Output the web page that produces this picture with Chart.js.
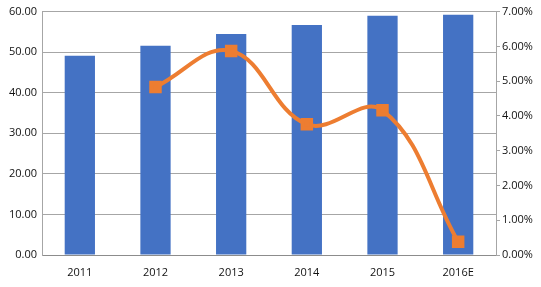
<!DOCTYPE html>
<html>
<head>
<meta charset="utf-8">
<script src="https://cdn.jsdelivr.net/npm/chart.js@4"></script>
<style>
  html, body { margin: 0; padding: 0; background: #fff; }
  #wrap { width: 541px; height: 287px; }
</style>
</head>
<body>
<div id="wrap"><canvas id="chart"></canvas></div>
<script>
// Data
const years = ['2011', '2012', '2013', '2014', '2015', '2016E'];
const marketSize = [49.1, 51.6, 54.5, 56.7, 59.0, 59.2];
const growthRate = [null, 4.83, 5.87, 3.76, 4.16, 0.38];

const axisFont = { family: 'Open Sans, Liberation Sans, sans-serif', size: 11 };

const ctx = document.getElementById('chart');
new Chart(ctx, {
    data: {
        labels: years,
        datasets: [{
            type: 'line',
            data: growthRate,
            yAxisID: 'y2',
            borderColor: '#ED7D31',
            backgroundColor: '#ED7D31',
            borderWidth: 4,
            tension: 0.4,
            pointStyle: 'rect',
            pointRadius: 6,
            pointHoverRadius: 6,
            order: 0
        }, {
            type: 'bar',
            data: marketSize,
            yAxisID: 'y',
            backgroundColor: '#4472C4',
            barPercentage: 0.4,
            categoryPercentage: 1,
            order: 1
        }]
    },
    options: {
        responsive: true,
        maintainAspectRatio: false,
        animation: false,
        layout: { padding: { top: 10, right: 0, left: 0, bottom: 0 } },
        plugins: {
            legend: { display: false },
            tooltip: { enabled: false }
        },
        scales: {
            x: {
                grid: { display: false, drawTicks: false },
                border: { color: '#8c8c8c' },
                ticks: { color: '#111', font: axisFont, padding: 11 },
                afterFit(s) { s.height = 32; }
            },
            y: {
                position: 'left',
                min: 0,
                max: 60,
                ticks: {
                    stepSize: 10,
                    color: '#111',
                    font: axisFont,
                    padding: 5,
                    callback: v => v.toFixed(2)
                },
                grid: { color: '#a6a6a6', drawTicks: false },
                border: { display: true, color: '#a6a6a6' },
                afterFit(s) { s.width = 42; }
            },
            y2: {
                position: 'right',
                min: 0,
                max: 7,
                ticks: {
                    stepSize: 1,
                    color: '#111',
                    font: axisFont,
                    padding: 2,
                    callback: v => v.toFixed(2) + '%'
                },
                grid: { drawOnChartArea: false, color: '#a6a6a6', tickLength: 4 },
                border: { color: '#a6a6a6' },
                afterFit(s) { s.width = 45; }
            }
        }
    }
});
</script>
</body>
</html>
